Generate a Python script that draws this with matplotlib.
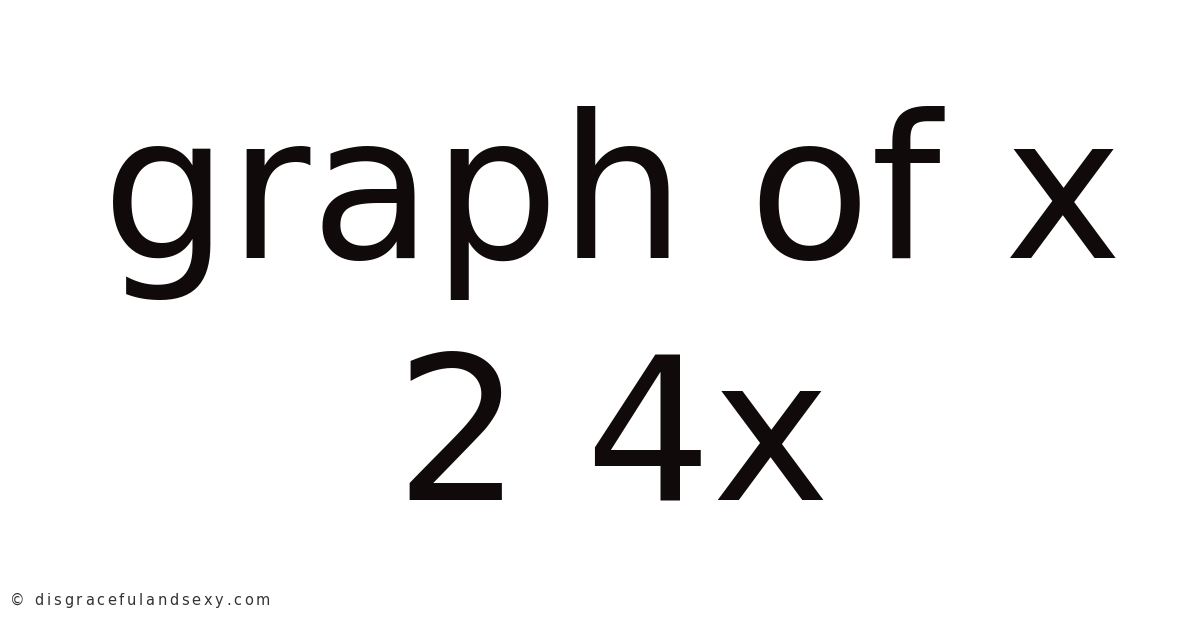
import matplotlib
matplotlib.use("Agg")
import matplotlib.pyplot as plt
from matplotlib.font_manager import FontProperties
from matplotlib.textpath import TextToPath

title_lines = ["graph of x", "2 4x"]
footer = "© disgracefulandsexy.com"

fig = plt.figure(figsize=(12, 6.28), dpi=100)
fig.patch.set_facecolor("white")

baselines = [1 - 258 / 628, 1 - 499 / 628]
for line, yb in zip(title_lines, baselines):
    fig.text(0.51, yb, line, ha="center", va="baseline", fontsize=143.5,
             color="#110a0a", family="DejaVu Sans")

# footer with extra letter spacing
fp = FontProperties(family="DejaVu Sans", size=10.5)
ttp = TextToPath()
x_px = 10.0
y_fig = 1 - 605 / 628
tracking = 2.75
for ch in footer:
    fig.text(x_px / 1200, y_fig, ch, ha="left", va="baseline",
             fontproperties=fp, color="#333333")
    w, h, d = ttp.get_text_width_height_descent(ch, fp, ismath=False)
    x_px += w * 100 / 72 + tracking

fig.savefig("out.png", dpi=100, facecolor="white")
